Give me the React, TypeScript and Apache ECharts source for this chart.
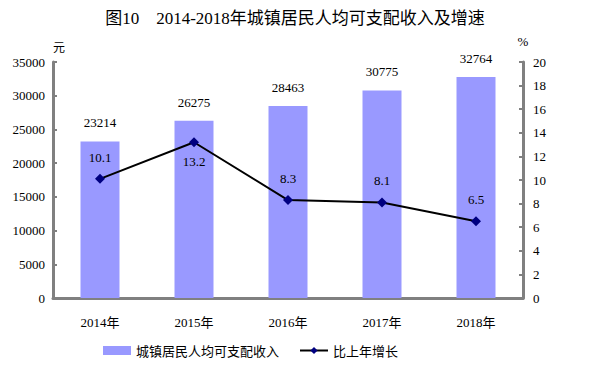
import React, { useEffect, useRef } from "react";
import * as echarts from "echarts";

const categories = ["2014年", "2015年", "2016年", "2017年", "2018年"];
const income = [23214, 26275, 28463, 30775, 32764];
const growth = [10.1, 13.2, 8.3, 8.1, 6.5];
const growthLabelPos = ["top", "bottom", "top", "top", "top"];

const FONT = "'Liberation Serif', 'Noto Sans CJK SC', serif";

export default function App() {
  const ref = useRef<HTMLDivElement>(null);
  useEffect(() => {
    if (!ref.current) return;
    const chart = echarts.init(ref.current, undefined, { renderer: "svg" });
    chart.setOption({
      animation: false,
      backgroundColor: "#ffffff",
      textStyle: { fontFamily: FONT, color: "#000" },
      title: {
        text: "图10　2014-2018年城镇居民人均可支配收入及增速",
        left: "center",
        top: 5,
        textStyle: { fontFamily: FONT, fontSize: 17, fontWeight: "normal", color: "#000" },
      },
      legend: {
        left: 98,
        top: 339,
        itemGap: 20,
        textStyle: { fontFamily: "'Noto Sans CJK SC', sans-serif", fontSize: 13, color: "#000" },
        data: [
          { name: "城镇居民人均可支配收入", icon: "rect", itemStyle: { color: "#9999ff" } },
          { name: "比上年增长" },
        ],
        itemWidth: 28,
        itemHeight: 9,
      },
      grid: { left: 53, right: 67, top: 62, bottom: 70 },
      xAxis: {
        type: "category",
        data: categories,
        axisLine: { lineStyle: { color: "#808080", width: 3 } },
        axisTick: { show: false },
        axisLabel: { fontFamily: FONT, fontSize: 13, color: "#000", margin: 18 },
      },
      yAxis: [
        {
          type: "value",
          min: 0,
          max: 35000,
          interval: 5000,
          name: "元",
          nameLocation: "end",
          nameGap: 10,
          nameTextStyle: { fontFamily: "'Noto Sans CJK SC', sans-serif", fontSize: 12, color: "#000", align: "left" },
          axisLine: { show: true, lineStyle: { color: "#808080", width: 3 } },
          axisTick: { show: true, inside: true, length: 4, lineStyle: { color: "#808080", width: 2 } },
          axisLabel: { fontFamily: FONT, fontSize: 13, color: "#000", margin: 8, formatter: (v: number) => String(v) },
          splitLine: { show: false },
        },
        {
          type: "value",
          min: 0,
          max: 20,
          interval: 2,
          name: "%",
          nameLocation: "end",
          nameGap: 14,
          nameTextStyle: { fontFamily: FONT, fontSize: 13, color: "#000" },
          axisLine: { show: true, lineStyle: { color: "#808080", width: 3 } },
          axisTick: { show: true, inside: true, length: 4, lineStyle: { color: "#808080", width: 2 } },
          axisLabel: { fontFamily: FONT, fontSize: 13, color: "#000", margin: 10 },
          splitLine: { show: false },
        },
      ],
      series: [
        {
          name: "城镇居民人均可支配收入",
          type: "bar",
          data: income,
          barWidth: 39,
          itemStyle: { color: "#9999ff" },
          label: { show: true, position: "top", distance: 12, fontFamily: FONT, fontSize: 13, color: "#000" },
        },
        {
          name: "比上年增长",
          type: "line",
          yAxisIndex: 1,
          data: growth.map((v, i) => ({
            value: v,
            label: { position: growthLabelPos[i], distance: growthLabelPos[i] === "top" ? 10 : 8 },
          })),
          symbol: "diamond",
          symbolSize: 10,
          lineStyle: { color: "#000", width: 2 },
          itemStyle: { color: "#000080" },
          label: { show: true, fontFamily: FONT, fontSize: 13, color: "#000" },
        },
      ],
    });
    return () => chart.dispose();
  }, []);
  return <div ref={ref} style={{ width: 590, height: 368, margin: -8 }} />;
}
